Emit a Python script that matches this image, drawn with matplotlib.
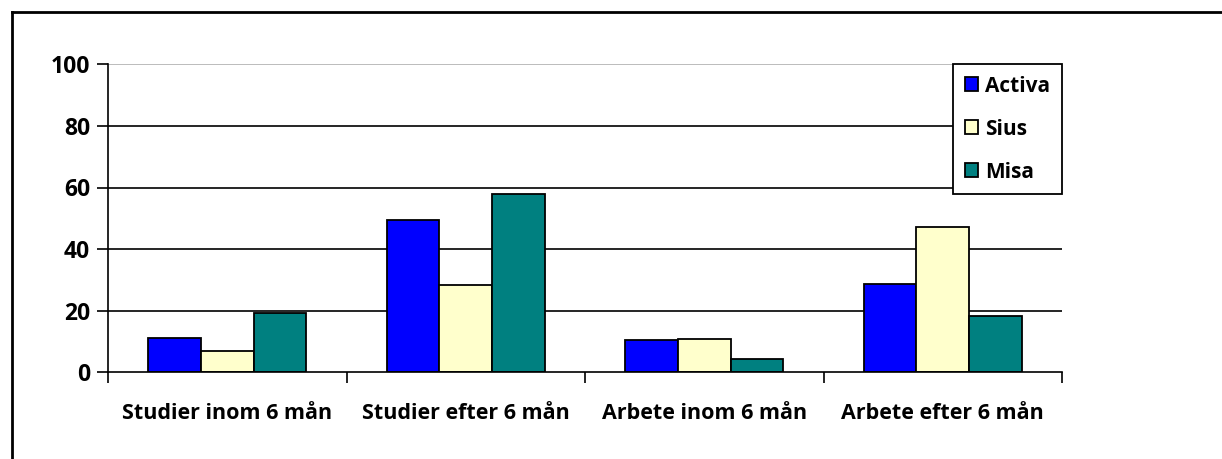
import numpy as np
import matplotlib
matplotlib.use('Agg')
import matplotlib.pyplot as plt
from matplotlib.lines import Line2D

categories = ['Studier inom 6 mån', 'Studier efter 6 mån', 'Arbete inom 6 mån', 'Arbete efter 6 mån']
series = ['Activa', 'Sius', 'Misa']
activa = [11.0, 49.3, 10.4, 28.6]
sius = [7.0, 28.3, 10.9, 47.3]
misa = [19.4, 57.8, 4.4, 18.2]
colors = ['#0000FF', '#FFFFCC', '#008080']

plt.rcParams['font.family'] = ['Open Sans', 'DejaVu Sans']
plt.rcParams['font.weight'] = 'bold'

fig = plt.figure(figsize=(12.22, 4.59), dpi=100)
ax = fig.add_axes([108/1222, 1-372.3/459, (1062-108)/1222, (372.3-64.3)/459])

x = np.arange(len(categories))
w = 0.221
for i, (vals, name) in enumerate(zip([activa, sius, misa], series)):
    ax.bar(x + (i-1)*w, vals, w, color=colors[i], edgecolor='black', linewidth=1.3,
           label=name, zorder=3)

ax.set_xlim(-0.5, 3.5)
ax.set_ylim(0, 100)
ax.set_yticks([0, 20, 40, 60, 80, 100])
for yv in [20, 40, 60, 80]:
    ax.axhline(yv, color='black', lw=1.2, zorder=1)
ax.axhline(100, color='#b0b0b0', lw=1.2, zorder=1)

ax.set_xticks(np.arange(-0.5, 4, 1))
ax.set_xticklabels([])
ax.set_xticks(x, minor=True)
ax.set_xticklabels(categories, minor=True)
ax.tick_params(axis='x', which='minor', length=0, pad=22, labelsize=15.5)
ax.tick_params(axis='x', which='major', length=8, width=1.2, direction='out')
ax.tick_params(axis='y', length=8, width=1.2, direction='out', labelsize=16.5, pad=5)

for s in ['top', 'right']:
    ax.spines[s].set_visible(False)
ax.spines['left'].set_linewidth(1.2)
ax.spines['bottom'].set_linewidth(1.2)
ax.spines['bottom'].set_zorder(4)

leg = ax.legend(loc='upper right', bbox_to_anchor=(1.0, 1.0), borderaxespad=0,
                fontsize=15, handlelength=0.65, handleheight=0.65, handletextpad=0.35,
                labelspacing=1.05, borderpad=0.55, fancybox=False, framealpha=1,
                edgecolor='black')
leg.get_frame().set_linewidth(1.3)

fig.add_artist(Line2D([12/1222, 12/1222], [0, 1-12/459], color='black', lw=2))
fig.add_artist(Line2D([12/1222, 1], [1-12/459, 1-12/459], color='black', lw=2))

fig.savefig('out.png', dpi=100, facecolor='white')
